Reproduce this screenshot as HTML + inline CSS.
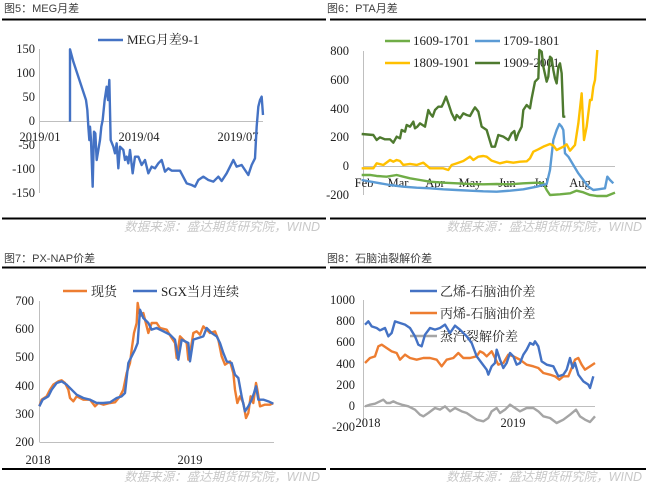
<!DOCTYPE html>
<html><head><meta charset="utf-8"><style>
html,body{margin:0;padding:0;background:#fff;}
svg{display:block;}
.t{font-family:"Liberation Sans","Noto Sans CJK SC",sans-serif;font-size:11px;fill:#404040;}
.ax{font-family:"Liberation Serif","Noto Serif CJK SC",serif;font-size:12.5px;fill:#222;}
.lg{font-family:"Liberation Serif","Noto Serif CJK SC",serif;font-size:13px;fill:#222;}
.src{font-family:"Liberation Sans","Noto Sans CJK SC",sans-serif;font-size:12.5px;fill:#c8c8c8;font-style:italic;}
.s{fill:none;stroke-width:2.4;vector-effect:non-scaling-stroke;stroke-linejoin:round;}
</style></head><body>
<svg width="660" height="486" viewBox="0 0 660 486" xmlns="http://www.w3.org/2000/svg">
<text class="t" x="4" y="12">图5：MEG月差</text>
<text class="t" x="327" y="12">图6：PTA月差</text>
<text class="t" x="4" y="262">图7：PX-NAP价差</text>
<text class="t" x="327" y="262">图8：石脑油裂解价差</text>
<line x1="2" y1="19.5" x2="326" y2="19.5" stroke="#000" stroke-width="2"/>
<line x1="330" y1="19.5" x2="646" y2="19.5" stroke="#000" stroke-width="2"/>
<line x1="2" y1="218.5" x2="326" y2="218.5" stroke="#000" stroke-width="2"/>
<line x1="330" y1="218.5" x2="646" y2="218.5" stroke="#000" stroke-width="2"/>
<line x1="2" y1="267.5" x2="326" y2="267.5" stroke="#000" stroke-width="2"/>
<line x1="330" y1="267.5" x2="646" y2="267.5" stroke="#000" stroke-width="2"/>
<line x1="2" y1="469" x2="326" y2="469" stroke="#000" stroke-width="2"/>
<line x1="330" y1="469" x2="646" y2="469" stroke="#000" stroke-width="2"/>
<text class="src" x="320" y="231" text-anchor="end">数据来源：盛达期货研究院，WIND</text>
<text class="src" x="642" y="231" text-anchor="end">数据来源：盛达期货研究院，WIND</text>
<text class="src" x="320" y="481" text-anchor="end">数据来源：盛达期货研究院，WIND</text>
<text class="src" x="642" y="481" text-anchor="end">数据来源：盛达期货研究院，WIND</text>

<line x1="39.5" y1="49" x2="39.5" y2="193" stroke="#bfbfbf"/>
<line x1="39.5" y1="121.5" x2="263" y2="121.5" stroke="#bfbfbf"/>
<g class="ax" text-anchor="end">
<text x="35" y="53">150</text><text x="35" y="77">100</text><text x="35" y="101">50</text>
<text x="35" y="125">0</text><text x="35" y="149">-50</text><text x="35" y="173">-100</text><text x="35" y="197">-150</text>
</g>
<g class="ax" text-anchor="middle"><text x="40" y="141">2019/01</text><text x="139" y="141">2019/04</text><text x="238" y="141">2019/07</text></g>
<line x1="98" y1="40" x2="123" y2="40" stroke="#4472C4" stroke-width="2.4"/>
<text class="lg" x="127" y="44">MEG月差9-1</text>
<g transform="scale(0.33333)">
<polyline class="s" stroke="#4472C4" points="210,365 210,148 220,185 258,300 262,330 265,380 268,420 270,380 273,420 278,560 282,395 286,400 290,480 300,420 304,380 308,360 314,300 320,260 324,300 328,240 332,420 340,440 345,460 350,430 355,505 360,440 370,450 375,480 380,470 385,490 390,450 398,520 405,470 415,470 425,495 435,480 445,520 455,500 465,505 475,490 485,480 495,515 505,505 515,512 540,512 560,550 575,555 585,560 595,540 610,530 625,540 640,545 655,530 665,543 680,520 690,500 700,480 710,500 725,495 735,510 745,525 755,495 765,475 770,380 775,320 780,300 785,290 789,345"/>
</g>

<line x1="363.5" y1="51" x2="363.5" y2="195" stroke="#bfbfbf"/>
<line x1="363.5" y1="166.5" x2="615" y2="166.5" stroke="#bfbfbf"/>
<g class="ax" text-anchor="end">
<text x="349" y="55">800</text><text x="349" y="84">600</text><text x="349" y="113">400</text>
<text x="349" y="141">200</text><text x="349" y="170">0</text><text x="349" y="199">-200</text>
</g>
<g class="ax" text-anchor="middle"><text x="364" y="187">Feb</text><text x="398" y="187">Mar</text><text x="435" y="187">Apr</text><text x="470" y="187">May</text><text x="507" y="187">Jun</text><text x="541" y="187">Jul</text><text x="580" y="187">Aug</text></g>
<line x1="385" y1="41" x2="410" y2="41" stroke="#70AD47" stroke-width="2.4"/><text class="lg" x="413" y="45">1609-1701</text>
<line x1="475" y1="41" x2="500" y2="41" stroke="#5B9BD5" stroke-width="2.4"/><text class="lg" x="503" y="45">1709-1801</text>
<line x1="385" y1="63" x2="410" y2="63" stroke="#FFC000" stroke-width="2.4"/><text class="lg" x="413" y="67">1809-1901</text>
<line x1="475" y1="63" x2="500" y2="63" stroke="#4E7A2F" stroke-width="2.4"/><text class="lg" x="503" y="67">1909-2001</text>
<g transform="translate(330,0) scale(0.33333)">
<polyline class="s" stroke="#70AD47" points="95,525 120,525 140,528 170,530 200,525 220,530 240,535 270,540 300,545 340,548 380,550 420,552 460,553 500,552 540,553 580,550 620,548 640,550 650,570 660,585 690,583 720,580 740,572 760,577 780,585 800,588 830,588 855,578"/>
<polyline class="s" stroke="#5B9BD5" points="95,540 140,548 180,555 220,560 260,563 300,565 340,568 380,570 420,572 460,574 500,575 540,572 580,568 620,560 650,552 660,510 670,420 680,390 688,372 695,380 700,390 705,460 715,470 730,495 745,520 760,540 775,560 790,570 805,568 825,565 832,530 840,540 850,550"/>
<polyline class="s" stroke="#FFC000" points="95,505 130,505 140,490 160,495 180,480 190,485 200,480 210,483 220,495 240,492 260,495 280,488 300,505 320,505 340,505 355,510 365,495 380,490 400,483 420,470 430,480 445,470 460,468 470,470 485,482 510,490 530,485 550,488 570,485 590,484 600,475 610,455 625,448 640,440 660,432 670,437 680,450 700,440 710,433 720,452 735,435 745,370 755,280 762,420 770,380 780,300 785,300 790,260 795,240 802,150"/>
<polyline class="s" stroke="#4E7A2F" points="95,402 130,405 140,420 150,412 165,418 180,418 190,428 200,410 210,415 215,390 225,395 230,375 240,380 250,365 255,385 262,380 270,370 285,380 295,330 300,340 308,350 315,330 325,320 335,320 340,310 348,290 355,310 365,340 375,360 380,345 390,355 400,340 410,345 420,348 430,330 435,322 445,335 455,380 470,390 485,440 495,440 505,405 520,410 535,420 545,400 553,393 558,420 565,400 575,380 580,330 590,315 600,325 605,295 615,245 625,235 628,150 635,155 640,200 650,245 655,230 660,170 665,175 670,210 675,235 680,250 685,200 690,190 695,220 700,350 706,350"/>
</g>

<line x1="39.5" y1="301" x2="39.5" y2="442" stroke="#bfbfbf"/>
<line x1="39.5" y1="442.5" x2="274" y2="442.5" stroke="#bfbfbf"/>
<g class="ax" text-anchor="end">
<text x="34" y="305">700</text><text x="34" y="333">600</text><text x="34" y="361">500</text>
<text x="34" y="390">400</text><text x="34" y="418">300</text><text x="34" y="446">200</text>
</g>
<g class="ax" text-anchor="middle"><text x="38" y="464">2018</text><text x="190" y="464">2019</text></g>
<line x1="63" y1="291" x2="87" y2="291" stroke="#ED7D31" stroke-width="2.4"/><text class="lg" x="91" y="296">现货</text>
<line x1="133" y1="291" x2="157" y2="291" stroke="#4472C4" stroke-width="2.4"/><text class="lg" x="161" y="296">SGX当月连续</text>
<g transform="translate(0,243) scale(0.33333)">
<polyline class="s" stroke="#ED7D31" points="118,490 125,470 140,460 150,440 160,425 175,415 185,412 195,420 205,440 210,465 220,475 230,460 250,470 270,470 285,490 295,480 310,485 330,480 345,478 360,460 370,440 380,390 390,360 395,320 402,270 410,240 413,180 420,220 430,210 440,250 445,270 455,240 470,240 480,255 500,260 515,285 525,300 530,345 540,280 550,290 560,300 565,350 572,320 580,270 590,265 600,275 610,250 620,260 630,270 645,265 655,290 665,340 675,365 690,355 700,390 705,440 712,480 720,460 730,480 738,525 745,510 752,460 760,480 768,420 772,440 780,490 795,485 810,485 820,480"/>
<polyline class="s" stroke="#4472C4" points="118,490 128,470 145,460 155,440 170,420 185,415 200,425 215,440 230,455 250,465 270,470 290,480 310,480 330,478 350,465 365,460 375,450 385,360 395,340 405,320 413,300 420,200 430,225 445,240 455,260 470,255 490,265 510,275 525,290 535,350 545,290 555,295 565,300 570,355 580,290 595,285 610,280 620,255 635,270 650,280 660,300 670,330 680,355 695,360 705,395 715,405 725,460 735,505 745,490 755,470 762,450 768,430 775,470 790,470 805,475 820,482"/>
</g>

<line x1="363.5" y1="300" x2="363.5" y2="427" stroke="#bfbfbf"/>
<line x1="363.5" y1="406.5" x2="595" y2="406.5" stroke="#bfbfbf"/>
<g class="ax" text-anchor="end">
<text x="355" y="304">1000</text><text x="355" y="325">800</text><text x="355" y="346">600</text>
<text x="355" y="368">400</text><text x="355" y="389">200</text><text x="355" y="410">0</text><text x="355" y="431">-200</text>
</g>
<g class="ax" text-anchor="middle"><text x="368" y="427">2018</text><text x="513" y="427">2019</text></g>
<line x1="410" y1="291" x2="437" y2="291" stroke="#4472C4" stroke-width="2.4"/><text class="lg" x="440" y="296">乙烯-石脑油价差</text>
<line x1="410" y1="313" x2="437" y2="313" stroke="#ED7D31" stroke-width="2.4"/><text class="lg" x="440" y="318">丙烯-石脑油价差</text>
<line x1="410" y1="336" x2="437" y2="336" stroke="#A5A5A5" stroke-width="2.4"/><text class="lg" x="440" y="341">蒸汽裂解价差</text>
<g transform="translate(330,243) scale(0.33333)">
<polyline class="s" stroke="#A5A5A5" points="105,490 120,485 135,482 150,475 160,470 170,480 180,480 190,475 200,480 215,485 235,490 255,500 270,515 280,520 295,510 315,495 330,500 345,490 360,505 375,495 395,505 410,510 425,520 440,530 460,535 475,525 485,505 500,495 510,510 525,500 540,485 555,495 570,505 590,495 610,495 625,505 640,520 660,525 680,540 700,530 720,515 738,500 750,520 765,530 780,537 795,520"/>
<polyline class="s" stroke="#ED7D31" points="105,360 120,345 135,340 145,310 155,305 170,315 185,325 200,330 210,350 225,335 240,345 260,350 280,345 300,345 320,350 335,370 350,350 370,345 385,330 400,345 420,345 440,340 450,325 460,330 470,340 485,325 495,345 505,365 520,360 535,335 550,340 560,345 570,350 590,365 610,370 625,375 640,390 660,395 675,400 688,410 700,400 715,400 725,375 735,350 745,345 755,365 765,380 780,370 795,360"/>
<polyline class="s" stroke="#4472C4" points="105,245 115,235 125,250 140,255 150,262 165,255 175,280 185,270 195,235 210,240 225,245 240,255 255,280 265,305 275,310 285,275 300,255 315,260 330,255 345,245 360,270 375,248 390,260 410,280 425,300 440,340 455,360 470,380 475,395 485,370 495,360 500,320 510,350 520,375 530,360 540,330 550,340 560,365 570,360 580,335 590,320 600,300 610,305 615,295 625,310 635,355 650,365 670,370 685,400 700,395 710,380 720,345 728,375 735,360 745,395 760,415 775,425 780,435 790,400"/>
</g>
</svg>
</body></html>
